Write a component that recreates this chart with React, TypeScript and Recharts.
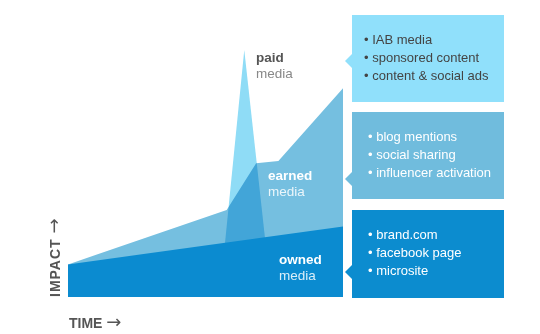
import { AreaChart, Area, XAxis, YAxis } from 'recharts';

// breakpoints of each layer (time 0-100, impact 0-100)
const ownedTime = [0, 100];
const ownedImpact = [13.2, 28.5];

const earnedTime = [0, 57.7, 68.4, 76.5, 100];
const earnedImpact = [13.2, 35.2, 54.1, 55.1, 84.5];

const paidTime = [57.1, 64.1, 71.6];
const paidImpact = [22, 100, 24.2];

const paidItems = ['IAB media', 'sponsored content', 'content & social ads'];
const earnedItems = ['blog mentions', 'social sharing', 'influencer activation'];
const ownedItems = ['brand.com', 'facebook page', 'microsite'];

const valueAt = (times: number[], values: number[], t: number) => {
  const i = times.indexOf(t);
  return i === -1 ? null : values[i];
};

const allTimes = Array.from(new Set([...ownedTime, ...earnedTime, ...paidTime])).sort((a, b) => a - b);

const chartData = allTimes.map((t) => ({
  time: t,
  owned: valueAt(ownedTime, ownedImpact, t),
  earned: valueAt(earnedTime, earnedImpact, t),
  paid: valueAt(paidTime, paidImpact, t),
}));

const FONT = '"Liberation Sans", Arial, Helvetica, sans-serif';

const COLORS = {
  paid: '#8fdcf6',
  earned: '#75bfe0',
  owned: '#0b8bd0',
};

interface InfoBoxProps {
  top: number;
  height: number;
  notchY: number;
  color: string;
  textColor: string;
  items: string[];
  textLeft: number;
  textTop: number;
}

function InfoBox({ top, height, notchY, color, textColor, items, textLeft, textTop }: InfoBoxProps) {
  return (
    <>
      <div style={{ position: 'absolute', left: 352, top, width: 152, height, background: color }} />
      <div
        style={{
          position: 'absolute',
          left: 345,
          top: notchY - 7,
          width: 0,
          height: 0,
          borderTop: '7px solid transparent',
          borderBottom: '7px solid transparent',
          borderRight: `7px solid ${color}`,
        }}
      />
      <div style={{ position: 'absolute', left: textLeft, top: textTop, color: textColor, fontSize: 13, lineHeight: '18px' }}>
        {items.map((item) => (
          <div key={item} style={{ whiteSpace: 'nowrap' }}>
            {'\u2022 '}
            {item}
          </div>
        ))}
      </div>
    </>
  );
}

function ChartLabel({ left, top, title, titleColor, subColor }: { left: number; top: number; title: string; titleColor: string; subColor: string }) {
  return (
    <div style={{ position: 'absolute', left, top, fontSize: 13.5, lineHeight: '15.5px' }}>
      <div style={{ fontWeight: 'bold', color: titleColor }}>{title}</div>
      <div style={{ color: subColor }}>media</div>
    </div>
  );
}

const Arrow = () => (
  <span style={{ fontFamily: '"DejaVu Sans", sans-serif', fontWeight: 'normal', fontSize: 18, letterSpacing: 0 }}>{'\u2192'}</span>
);

export default function App() {
  return (
    <div style={{ position: 'absolute', left: 0, top: 0, width: 540, height: 334, background: '#fff', fontFamily: FONT, overflow: 'hidden' }}>
      <style>{'.paid-layer { mix-blend-mode: multiply; }'}</style>
      <AreaChart width={540} height={334} data={chartData} margin={{ top: 50, right: 197, bottom: 37, left: 68 }}>
        <XAxis dataKey="time" type="number" domain={[0, 100]} hide />
        <YAxis type="number" domain={[0, 100]} hide />
        <Area
          dataKey="earned"
          type="linear"
          stroke="none"
          fill={COLORS.earned}
          fillOpacity={1}
          connectNulls
          dot={false}
          activeDot={false}
          isAnimationActive={false}
        />
        <Area
          className="paid-layer"
          dataKey="paid"
          type="linear"
          stroke="none"
          fill={COLORS.paid}
          fillOpacity={1}
          connectNulls
          dot={false}
          activeDot={false}
          isAnimationActive={false}
        />
        <Area
          dataKey="owned"
          type="linear"
          stroke="none"
          fill={COLORS.owned}
          fillOpacity={1}
          connectNulls
          dot={false}
          activeDot={false}
          isAnimationActive={false}
        />
      </AreaChart>

      {/* layer labels */}
      <ChartLabel left={256} top={50} title="paid" titleColor="#555" subColor="#888" />
      <ChartLabel left={268} top={168} title="earned" titleColor="#fff" subColor="rgba(255,255,255,0.85)" />
      <ChartLabel left={279} top={252} title="owned" titleColor="#fff" subColor="rgba(255,255,255,0.85)" />

      {/* side boxes */}
      <InfoBox top={15} height={87} notchY={61} color="#90e0fb" textColor="#444" items={paidItems} textLeft={364} textTop={31} />
      <InfoBox top={112} height={87} notchY={179} color="#70bcdd" textColor="#fff" items={earnedItems} textLeft={368} textTop={128} />
      <InfoBox top={210} height={88} notchY={272} color="#0c8ccf" textColor="#fff" items={ownedItems} textLeft={368} textTop={226} />

      {/* axis titles */}
      <div
        style={{
          position: 'absolute',
          left: 54,
          top: 297,
          transform: 'rotate(-90deg)',
          transformOrigin: '0 0',
          fontWeight: 'bold',
          fontSize: 14,
          lineHeight: '18px',
          color: '#555',
          whiteSpace: 'nowrap',
          marginLeft: -9,
          letterSpacing: 1,
        }}
      >
        IMPACT <Arrow />
      </div>
      <div style={{ position: 'absolute', left: 69, top: 313, fontWeight: 'bold', fontSize: 14, lineHeight: '18px', color: '#555', whiteSpace: 'nowrap' }}>
        TIME <Arrow />
      </div>
    </div>
  );
}
